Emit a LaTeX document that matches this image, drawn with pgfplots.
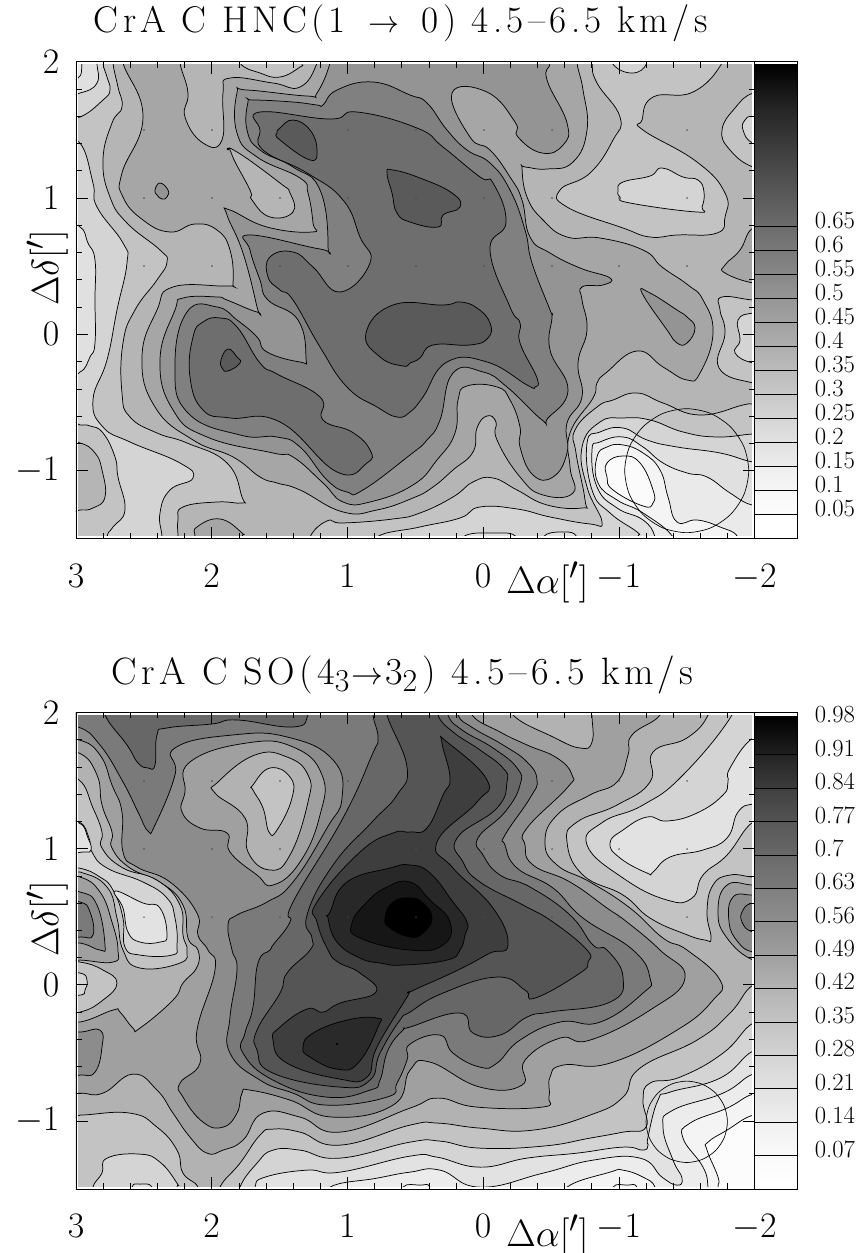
\documentclass[border=0pt]{standalone}
\usepackage{pgfplots}
\pgfplotsset{compat=1.18}
% Contour vertices in its pixel frame; the axis x/y filters map them to arcminutes.
\newcommand{\Z}[2]{\addplot[draw=black,line width=0.55pt,smooth cycle,tension=0.8,no markers,fill={rgb,255:red,#1;green,#1;blue,#1}] coordinates {#2};}
\newcommand{\CC}[4]{\addplot[draw=none,bottom color={rgb,255:red,#3;green,#3;blue,#3},top color={rgb,255:red,#4;green,#4;blue,#4}] coordinates {(0,#1)(1,#1)(1,#2)(0,#2)} -- cycle;}
\newcommand{\ls}{\kern2.9pt\relax}
\pgfplotsset{
 mainax/.style={scale only axis,anchor=south west,width=508.9pt,x dir=reverse,xmin=-2,xmax=3,ymin=-1.5,ymax=2,
  xtick={3,2,1,0,-1,-2},ytick={2,1,0,-1},minor x tick num=4,minor y tick num=4,tick align=inside,
  major tick length=9pt,minor tick length=4.5pt,axis on top,axis line style={line width=0.7pt},tick style={line width=0.45pt,black},
  tick label style={font=\Huge,scale=1.08},
  xticklabel style={yshift=-14pt},yticklabel style={xshift=-8pt},
  x filter/.expression={3-(x-76)/135.7}},
 barax/.style={scale only axis,anchor=south west,width=31.9pt,xmin=0,xmax=1,xtick=\empty,axis on top,axis line style={line width=0.7pt},
  ytick pos=right,yticklabel pos=right,tick align=inside,major tick length=31.9pt,tick style={line width=0.5pt,black},
  yticklabel style={anchor=west,xshift=9.5pt,yshift=5pt,font=\LARGE,scale=1.07}}
}
\begin{document}
\begin{tikzpicture}
\path[use as bounding box] (0,0) rectangle (648pt,939.75pt);
\node[font=\Huge,scale=1.12] at (300.5pt,922.5pt) {C\ls r\ls A\ls\ C\ls\ H\ls N\ls C\ls (\ls 1\ \ $\scriptstyle\rightarrow$\ \ 0\ls )\ls\ 4\ls .\ls 5\ls --\ls 6\ls .\ls 5\ls\ k\ls m\ls /\ls s};
\node[font=\Huge,scale=1.15] at (302pt,433.5pt) {C\ls r\ls A\ls\ C\ls\ S\ls O\ls (\ls 4$_{3}$\kern1pt$\scriptstyle\rightarrow$\kern1pt 3$_{2}$\ls )\ls\ 4\ls .\ls 5\ls --\ls 6\ls .\ls 5\ls\ k\ls m\ls /\ls s};
\node[font=\Huge,scale=1.15,rotate=90] at (35.5pt,738.75pt) {$\Delta\delta[']$};
\node[font=\Huge,scale=1.15,rotate=90] at (35.5pt,250.5pt) {$\Delta\delta[']$};
\node[font=\Huge,scale=1.15] at (410.5pt,503pt) {$\Delta\alpha[']$};
\node[font=\Huge,scale=1.15] at (410.5pt,13.5pt) {$\Delta\alpha[']$};

% ---------------- TOP MAP
\begin{axis}[mainax,at={(57pt,535.7pt)},height=357.75pt,y filter/.expression={(334.3-y)/136.3}]
\addplot[draw=none,fill={rgb,255:red,212;green,212;blue,212}] coordinates {(50,40)(780,40)(780,560)(50,560)} -- cycle;
\Z{195}{(103,63)(107,77)(110,90)(103,100)(80,117)(60,117)(60,143)(80,143)(93,183)(97,207)(123,243)(127,263)(117,310)(107,360)(93,400)(103,427)(130,442)(180,463)(193,478)(170,490)(160,513)(162,537)(162,555)(377,555)(377,537)(420,527)(460,518)(480,507)(517,509)(550,517)(590,524)(602,522)(587,487)(582,447)(600,422)(623,418)(650,420)(683,432)(717,437)(753,434)(775,434)(775,45)(103,45)}
\Z{224}{(80,227)(88,243)(95,260)(95,300)(95,343)(90,357)(80,372)(60,372)(60,227)}
\Z{224}{(80,93)(97,83)(97,63)(97,45)(60,45)(60,93)}
\Z{234}{(60,78)(78,78)(82,63)(82,45)(60,45)}
\Z{195}{(80,425)(90,426)(103,433)(115,457)(118,477)(125,510)(113,527)(107,537)(107,555)(60,555)(60,425)}
\Z{181}{(80,443)(95,453)(102,470)(105,497)(93,508)(80,510)(60,510)(60,443)}
\Z{181}{(113,63)(118,87)(122,107)(112,123)(103,160)(110,197)(127,223)(160,250)(167,262)(157,280)(135,310)(123,343)(122,393)(130,417)(157,433)(187,443)(227,463)(242,497)(242,503)(217,502)(183,507)(178,520)(178,537)(178,555)(310,555)(310,537)(327,521)(343,523)(393,519)(420,513)(453,497)(473,482)(493,478)(517,490)(547,505)(582,508)(585,500)(576,453)(575,430)(597,407)(613,400)(637,393)(663,403)(700,415)(743,405)(753,404)(775,404)(775,45)(113,45)}
\Z{195}{(592,63)(597,83)(620,117)(613,140)(590,173)(560,190)(567,207)(623,228)(650,237)(677,235)(717,233)(725,217)(725,193)(697,162)(643,130)(642,120)(653,97)(693,92)(722,63)(722,45)(592,45)}
\Z{212}{(618,190)(623,182)(650,176)(662,168)(683,177)(698,180)(704,192)(702,207)(697,212)(630,203)(620,197)}
\Z{212}{(612,63)(632,73)(647,63)(647,45)(612,45)}
\Z{195}{(753,93)(735,108)(722,130)(730,150)(753,167)(775,167)(775,93)}
\Z{212}{(753,116)(745,120)(743,130)(753,143)(775,143)(775,116)}
\Z{166}{(753,228)(740,250)(725,265)(725,273)(753,283)(775,283)(775,228)}
\Z{195}{(753,300)(722,297)(720,310)(725,333)(719,368)(753,383)(775,383)(775,300)}
\Z{212}{(753,313)(738,320)(740,340)(735,353)(753,363)(775,363)(775,313)}
\Z{166}{(123,63)(143,117)(122,173)(123,197)(143,220)(170,232)(195,224)(217,230)(230,250)(233,283)(227,286)(173,287)(157,310)(142,357)(155,407)(193,440)(233,457)(260,477)(277,483)(300,490)(343,512)(377,510)(413,498)(433,487)(453,470)(473,452)(477,428)(487,416)(496,422)(497,440)(520,477)(543,495)(573,493)(570,467)(570,433)(593,398)(597,383)(607,372)(637,351)(663,367)(687,380)(700,373)(713,333)(703,300)(688,285)(662,267)(643,250)(600,238)(567,237)(543,220)(527,197)(522,168)(525,167)(547,169)(573,162)(587,130)(583,90)(577,63)(577,45)(317,45)(317,63)(300,87)(273,83)(230,78)(223,93)(222,140)(203,143)(185,117)(188,93)(180,63)(180,45)(123,45)}
\Z{181}{(232,155)(237,152)(280,183)(290,193)(293,212)(270,217)(252,200)(250,190)}
\Z{166}{(195,537)(197,527)(220,519)(242,533)(242,537)(242,555)(195,555)}
\Z{195}{(240,63)(260,73)(280,77)(300,67)(302,63)(302,45)(240,45)}
\Z{148}{(642,293)(667,330)(677,343)(687,343)(695,328)(687,317)(677,310)(650,293)}
\Z{148}{(155,190)(160,183)(168,190)(167,197)(162,199)(157,195)}
\Z{148}{(330,63)(317,93)(307,96)(247,90)(237,93)(237,133)(257,157)(300,178)(308,193)(313,223)(312,232)(267,227)(230,210)(227,215)(243,253)(257,307)(257,312)(227,300)(217,297)(183,298)(175,310)(160,360)(173,410)(207,437)(273,453)(293,457)(323,483)(343,502)(370,502)(413,485)(437,460)(455,433)(458,400)(467,386)(497,387)(510,400)(520,427)(520,447)(533,475)(553,477)(567,453)(567,423)(582,397)(578,363)(587,330)(582,300)(582,287)(603,285)(610,278)(580,268)(550,253)(530,237)(522,200)(510,177)(490,150)(470,137)(452,93)(487,92)(515,122)(518,137)(542,153)(563,145)(567,123)(547,80)(550,63)(550,45)(330,45)}
\Z{128}{(248,102)(253,100)(293,102)(317,105)(323,105)(337,90)(373,82)(410,95)(427,103)(447,130)(467,150)(490,163)(510,190)(525,230)(532,263)(550,310)(552,317)(550,350)(568,390)(548,418)(542,420)(507,387)(483,372)(453,373)(440,420)(427,440)(410,455)(363,490)(347,492)(327,480)(300,447)(277,437)(240,435)(188,413)(175,367)(187,312)(217,307)(237,320)(257,337)(267,352)(300,362)(306,358)(298,320)(268,300)(260,280)(250,250)(250,235)(320,249)(328,247)(320,190)(293,167)(260,150)(247,130)}
\Z{110}{(260,112)(330,119)(357,112)(417,128)(443,147)(480,177)(493,183)(506,222)(490,250)(510,307)(520,323)(520,343)(537,378)(535,387)(527,385)(487,362)(447,362)(423,397)(410,412)(397,417)(377,407)(347,387)(320,347)(293,300)(280,290)(268,277)(270,257)(293,252)(313,267)(340,292)(370,263)(360,237)(343,200)(307,173)(263,150)(260,130)}
\Z{110}{(220,318)(203,322)(193,337)(190,377)(203,410)(230,418)(280,422)(337,472)(367,463)(370,450)(352,432)(323,420)(320,397)(277,374)(260,363)(237,327)}
\Z{90}{(277,133)(280,128)(293,120)(310,130)(317,150)(310,160)(280,140)}
\Z{90}{(387,173)(393,170)(420,178)(452,193)(460,207)(443,215)(438,227)(410,222)(397,213)(392,193)}
\Z{90}{(366,333)(393,305)(443,305)(460,302)(477,308)(490,323)(488,338)(470,345)(433,345)(420,358)(410,363)(403,366)(380,357)}
\Z{90}{(221,360)(228,349)(237,357)(240,363)(228,371)(222,368)}
\Z{224}{(463,537)(493,533)(517,537)(517,555)(463,555)}
\Z{224}{(543,537)(563,532)(577,537)(577,555)(543,555)}
\Z{224}{(587,443)(600,432)(623,428)(647,440)(677,447)(720,453)(753,462)(775,462)(775,555)(638,555)(638,537)(637,532)(610,513)(592,490)}
\Z{234}{(592,450)(600,442)(623,437)(643,447)(663,463)(687,473)(707,477)(730,493)(752,505)(775,505)(775,555)(655,555)(655,537)(643,520)(617,508)(597,487)}
\Z{244}{(597,457)(607,447)(623,445)(643,453)(660,470)(668,497)(677,522)(697,520)(720,527)(738,537)(738,555)(673,555)(673,537)(643,513)(617,500)(598,483)}
\Z{251}{(607,463)(623,456)(640,463)(653,490)(653,503)(643,506)(613,490)(607,477)}
\addplot[smooth cycle,line width=0.5pt,black,no markers] coordinates {(748.7,470.7)(744,447)(730.5,426.9)(710.4,413.4)(686.7,408.7)(663,413.4)(642.9,426.9)(629.4,447)(624.7,470.7)(629.4,494.4)(642.9,514.5)(663,528)(686.7,532.7)(710.4,528)(730.5,514.5)(744,494.4)};
\addplot[only marks,mark=*,mark size=0.3pt,black!70] coordinates {(144,130)(212,130)(280,130)(348,130)(416,130)(484,130)(552,130)(619,130)(687,130)(144,198)(212,198)(280,198)(348,198)(416,198)(484,198)(552,198)(619,198)(687,198)(144,266)(212,266)(280,266)(348,266)(416,266)(484,266)(552,266)(619,266)(687,266)};
\addplot[only marks,mark=*,mark size=0.8pt,black] coordinates {(228,149)};
\addplot[white,line width=1.7pt,no markers] coordinates {(77.3,63.2)(752.8,63.2)(752.8,537.4)(77.3,537.4)(77.3,63.2)};
\end{axis}
\begin{axis}[barax,at={(565.9pt,535.7pt)},height=357.75pt,ymin=0,ymax=0.994,
 ytick={0.05,0.1,0.15,0.2,0.25,0.3,0.35,0.4,0.45,0.5,0.55,0.6,0.65},
 yticklabels={0.05,0.1,0.15,0.2,0.25,0.3,0.35,0.4,0.45,0.5,0.55,0.6,0.65}]
\CC{0}{0.05}{255}{255}\CC{0.05}{0.1}{252}{248}\CC{0.1}{0.15}{246}{238}\CC{0.15}{0.2}{236}{226}\CC{0.2}{0.25}{226}{214}\CC{0.25}{0.3}{214}{200}\CC{0.3}{0.35}{200}{188}\CC{0.35}{0.4}{188}{174}\CC{0.4}{0.45}{174}{162}\CC{0.45}{0.5}{162}{150}\CC{0.5}{0.55}{150}{136}\CC{0.55}{0.6}{136}{122}\CC{0.6}{0.65}{122}{108}
\CC{0.65}{0.8}{108}{66}\CC{0.8}{0.9}{66}{36}\CC{0.9}{0.988}{36}{0}
\end{axis}

% ---------------- BOTTOM MAP
\begin{axis}[mainax,at={(57pt,48pt)},height=357.4pt,y filter/.expression={(984.7-y)/136.1}]
\addplot[draw=none,fill={rgb,255:red,244;green,244;blue,244}] coordinates {(50,695)(780,695)(780,1205)(50,1205)} -- cycle;
\Z{236}{(775,1094)(753,1094)(727,1108)(690,1123)(683,1138)(703,1167)(708,1187)(708,1205)(655,1205)(655,1187)(643,1177)(623,1170)(610,1172)(567,1187)(567,1205)(50,1205)(50,695)(775,695)}
\Z{244}{(403,1187)(420,1185)(430,1187)(430,1205)(403,1205)}
\Z{244}{(613,1187)(627,1185)(637,1187)(637,1205)(613,1205)}
\Z{226}{(775,1074)(753,1074)(723,1093)(673,1110)(663,1127)(673,1160)(682,1178)(677,1185)(662,1177)(640,1158)(593,1160)(543,1173)(480,1187)(440,1170)(410,1172)(377,1178)(330,1187)(330,1205)(50,1205)(50,695)(775,695)}
\Z{212}{(775,1051)(753,1051)(720,1078)(670,1092)(658,1100)(648,1137)(648,1145)(643,1150)(623,1147)(577,1153)(527,1158)(480,1167)(437,1157)(410,1156)(340,1172)(307,1170)(265,1177)(255,1187)(255,1205)(50,1205)(50,695)(775,695)}
\Z{226}{(132,1187)(140,1184)(152,1187)(152,1205)(132,1205)}
\Z{195}{(732,715)(732,695)(50,695)(50,1205)(93,1205)(93,1187)(102,1173)(107,1158)(140,1154)(160,1162)(177,1183)(177,1187)(177,1205)(240,1205)(240,1187)(257,1163)(273,1150)(300,1150)(340,1158)(410,1142)(440,1141)(480,1148)(543,1146)(590,1138)(623,1132)(646,1127)(643,1100)(650,1083)(680,1077)(723,1053)(753,1023)(775,1023)(775,822)(753,822)(727,855)(703,875)(692,898)(667,900)(623,878)(587,845)(603,822)(643,805)(683,775)}
\Z{226}{(753,738)(730,768)(728,782)(723,795)(697,813)(667,821)(647,817)(623,830)(610,843)(620,858)(647,873)(653,872)(670,857)(703,850)(727,838)(738,812)(753,804)(775,804)(775,738)}
\Z{178}{(708,715)(687,738)(653,752)(650,782)(617,805)(577,822)(567,842)(583,875)(623,895)(650,918)(685,934)(705,940)(711,938)(707,912)(713,885)(730,875)(753,877)(775,877)(775,985)(753,985)(730,1013)(697,1040)(640,1068)(623,1097)(590,1115)(533,1130)(480,1128)(438,1123)(410,1125)(340,1145)(300,1132)(273,1129)(260,1135)(240,1163)(220,1187)(220,1205)(198,1205)(198,1187)(183,1173)(177,1150)(157,1127)(130,1113)(80,1115)(50,1115)(50,695)(708,695)}
\Z{195}{(79,780)(93,808)(102,832)(102,848)(123,868)(157,880)(180,905)(183,935)(187,950)(180,963)(140,968)(123,950)(117,918)(107,887)(80,872)(55,870)(55,780)}
\Z{212}{(79,822)(89,838)(92,852)(107,868)(143,882)(167,898)(175,918)(177,945)(172,955)(140,955)(125,947)(123,918)(113,890)(100,877)(79,868)(55,868)(55,822)}
\Z{226}{(115,891)(143,903)(160,908)(167,935)(160,942)(140,942)(128,932)(123,908)}
\Z{226}{(79,823)(88,838)(91,850)(83,852)(55,852)(55,823)}
\Z{195}{(80,962)(103,970)(117,983)(103,1000)(80,1012)(55,1012)(55,962)}
\Z{212}{(80,973)(87,980)(85,990)(80,995)(55,995)(55,973)}
\Z{160}{(660,715)(632,735)(628,755)(617,782)(590,795)(557,815)(545,842)(557,865)(590,882)(630,908)(663,938)(687,950)(720,980)(713,1000)(677,1030)(610,1063)(563,1065)(550,1077)(549,1097)(542,1107)(477,1107)(438,1098)(410,1108)(340,1132)(300,1117)(263,1113)(243,1140)(223,1150)(207,1153)(190,1137)(173,1113)(157,1090)(133,1074)(103,1093)(80,1093)(50,1093)(50,1022)(80,1022)(113,1010)(120,1012)(133,1028)(140,1028)(173,1000)(183,983)(197,967)(198,950)(188,938)(183,905)(160,882)(130,868)(112,848)(112,832)(102,805)(97,775)(79,753)(50,753)(50,695)(660,695)}
\Z{160}{(80,877)(100,892)(112,922)(118,950)(113,962)(80,960)(55,960)(55,877)}
\Z{160}{(753,885)(727,885)(718,912)(727,938)(753,960)(775,960)(775,885)}
\Z{178}{(513,715)(553,737)(580,748)(592,742)(592,715)(592,695)(513,695)}
\Z{140}{(472,715)(500,732)(527,745)(557,758)(572,775)(567,788)(527,828)(525,845)(533,865)(570,882)(607,908)(627,922)(660,950)(685,978)(650,1010)(590,1040)(560,1038)(525,1060)(522,1085)(480,1087)(430,1062)(410,1070)(393,1105)(333,1117)(290,1100)(250,1090)(242,1093)(237,1113)(223,1127)(203,1122)(183,1097)(180,1083)(200,1063)(197,1030)(215,970)(208,950)(198,935)(197,913)(170,882)(137,867)(123,852)(122,812)(112,785)(100,755)(79,740)(50,740)(50,695)(472,695)}
\Z{140}{(80,892)(97,905)(105,945)(100,950)(80,943)(55,943)(55,892)}
\Z{140}{(80,1032)(100,1030)(102,1047)(95,1072)(80,1075)(55,1075)(55,1032)}
\Z{140}{(753,895)(733,897)(729,922)(738,942)(753,952)(775,952)(775,895)}
\Z{160}{(190,762)(247,743)(293,747)(322,775)(320,815)(300,862)(273,885)(257,875)(230,852)(227,833)(200,828)(182,812)(185,792)}
\Z{178}{(218,782)(255,755)(287,757)(308,775)(308,802)(290,855)(270,870)(248,852)(245,818)(215,793)}
\Z{195}{(253,785)(270,768)(290,777)(292,798)(277,830)(269,832)(263,808)(253,790)}
\Z{122}{(78,727)(100,745)(123,782)(138,812)(148,831)(155,825)(175,775)(175,748)(233,735)(287,737)(333,760)(342,798)(327,828)(293,882)(267,902)(237,915)(228,925)(232,950)(237,970)(230,1017)(230,1053)(260,1080)(293,1093)(327,1105)(387,1097)(397,1083)(407,1060)(410,1044)(440,1035)(453,1053)(480,1067)(497,1063)(520,1040)(560,1022)(600,1022)(643,993)(650,978)(633,950)(583,918)(553,888)(517,868)(505,845)(505,835)(530,798)(537,780)(527,762)(503,745)(473,728)(458,715)(458,695)(50,695)(50,727)}
\Z{122}{(753,903)(743,910)(742,922)(753,932)(775,932)(775,903)}
\Z{122}{(80,902)(90,912)(93,935)(80,937)(55,937)(55,902)}
\Z{103}{(105,715)(127,745)(138,763)(148,768)(155,765)(157,735)(167,728)(212,724)(237,720)(293,727)(308,715)(308,695)(105,695)}
\Z{103}{(373,715)(378,738)(372,755)(343,818)(293,902)(290,922)(273,945)(270,950)(258,963)(253,1007)(245,1033)(243,1053)(273,1080)(327,1097)(370,1090)(380,1080)(388,1050)(403,1030)(410,1027)(460,1013)(473,1033)(500,1035)(527,1017)(550,1012)(610,1002)(623,977)(607,950)(593,945)(570,915)(530,887)(500,875)(483,855)(478,838)(505,812)(520,785)(517,768)(493,748)(462,730)(448,715)(448,695)(373,695)}
\Z{85}{(387,715)(407,767)(397,795)(372,822)(333,865)(307,915)(312,938)(310,950)(287,973)(280,993)(257,1030)(257,1050)(273,1073)(340,1087)(370,1080)(380,1053)(400,1020)(410,1012)(443,993)(497,977)(525,990)(535,998)(580,973)(588,962)(587,950)(553,922)(523,905)(480,882)(463,862)(457,838)(497,808)(507,782)(503,768)(480,750)(453,732)(438,715)(438,695)(387,695)}
\Z{62}{(410,832)(427,828)(443,795)(450,778)(442,743)(447,742)(487,780)(477,802)(437,842)(453,868)(493,908)(508,945)(490,953)(468,965)(443,977)(410,992)(407,997)(377,1047)(367,1077)(340,1079)(287,1063)(273,1040)(280,1027)(307,1009)(323,1012)(340,1003)(376,992)(360,973)(338,962)(328,950)(317,922)(317,902)(360,852)(393,833)}
\Z{40}{(410,865)(390,868)(347,882)(330,912)(328,918)(337,942)(360,958)(380,963)(403,965)(447,960)(460,950)(465,935)(467,922)(453,902)(430,873)}
\Z{42}{(303,1047)(313,1033)(347,1020)(377,1018)(378,1027)(358,1063)(337,1069)(310,1057)}
\Z{22}{(410,882)(430,900)(450,922)(443,945)(410,950)(360,938)(352,923)(367,902)(387,887)}
\Z{0}{(410,898)(423,903)(432,918)(423,933)(410,937)(390,928)(385,918)(393,902)}
\Z{252}{(753,1115)(727,1130)(708,1142)(707,1150)(718,1177)(718,1187)(718,1205)(775,1205)(775,1115)}
\addplot[smooth cycle,line width=0.5pt,black,no markers] coordinates {(727.4,1121.7)(724.3,1106.1)(715.5,1092.9)(702.3,1084.1)(686.7,1081)(671.1,1084.1)(657.9,1092.9)(649.1,1106.1)(646,1121.7)(649.1,1137.3)(657.9,1150.5)(671.1,1159.3)(686.7,1162.4)(702.3,1159.3)(715.5,1150.5)(724.3,1137.3)};
\addplot[only marks,mark=*,mark size=0.3pt,black!70] coordinates {(144,781)(212,781)(280,781)(348,781)(416,781)(484,781)(552,781)(619,781)(687,781)(144,849)(212,849)(280,849)(348,849)(416,849)(484,849)(552,849)(619,849)(687,849)(144,917)(212,917)(280,917)(348,917)(416,917)(484,917)(552,917)(619,917)(687,917)};
\addplot[only marks,mark=*,mark size=0.6pt,black] coordinates {(337,1044)};
\addplot[white,line width=1.7pt,no markers] coordinates {(77.3,714)(752.8,714)(752.8,1187.7)(77.3,1187.7)(77.3,714)};
\end{axis}
\begin{axis}[barax,at={(565.9pt,48pt)},height=357.4pt,ymin=0,ymax=0.9987,
 ytick={0.07,0.14,0.21,0.28,0.35,0.42,0.49,0.56,0.63,0.7,0.77,0.84,0.91},
 yticklabels={0.07,0.14,0.21,0.28,0.35,0.42,0.49,0.56,0.63,0.7,0.77,0.84,0.91},
 extra y ticks={0.98},extra y tick labels={0.98},extra tick style={major tick length=0pt}]
\CC{0}{0.07}{255}{250}\CC{0.07}{0.14}{250}{240}\CC{0.14}{0.21}{238}{226}\CC{0.21}{0.28}{226}{212}\CC{0.28}{0.35}{210}{196}\CC{0.35}{0.42}{196}{180}\CC{0.42}{0.49}{178}{160}\CC{0.49}{0.56}{158}{142}\CC{0.56}{0.63}{142}{128}\CC{0.63}{0.7}{122}{106}\CC{0.7}{0.77}{104}{88}\CC{0.77}{0.84}{84}{64}\CC{0.84}{0.91}{60}{36}\CC{0.91}{0.991}{32}{0}
\end{axis}
\end{tikzpicture}
\end{document}
